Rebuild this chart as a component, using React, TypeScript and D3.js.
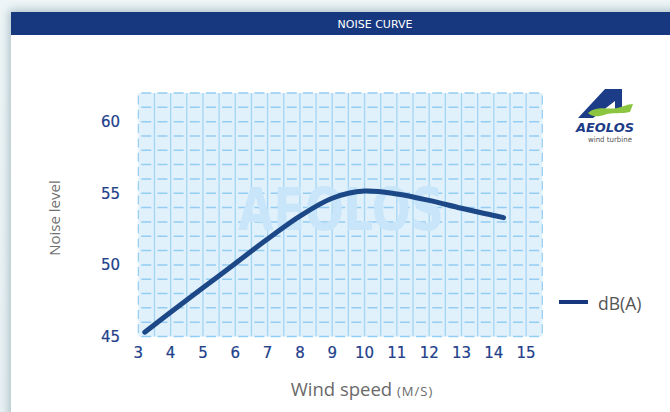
import * as d3 from 'd3';
import React from 'react';

// wind speed (m/s) vs noise level dB(A)
const windSpeed = [3.2, 4, 5, 6, 7, 8, 9, 10, 11, 12, 13, 14, 14.3];
const noiseLevel = [45.3, 46.7, 48.4, 50.1, 51.8, 53.4, 54.65, 55.15, 54.95, 54.5, 53.95, 53.45, 53.3];
const xTicks = [3, 4, 5, 6, 7, 8, 9, 10, 11, 12, 13, 14, 15];
const yTicks = [45, 50, 55, 60];
const seriesName = 'dB(A)';

const W = 670;
const H = 412;
const plot = { left: 138.3, right: 542.3, top: 93, bottom: 336.5 };

const navy = '#17387f';
const curveBlue = '#1d4887';
const tickBlue = '#22408a';

const App = () => {
    const x = d3.scaleLinear().domain([3, 15.5]).range([plot.left, plot.right]);
    const y = d3.scaleLinear().domain([45, 62]).range([plot.bottom, plot.top]);

    const pts: [number, number][] = windSpeed.map((w, i) => [w, noiseLevel[i]]);
    const line = d3.line<[number, number]>()
        .x(d => x(d[0]))
        .y(d => y(d[1]))
        .curve(d3.curveCatmullRom.alpha(0.5));

    const vLines = d3.range(3.5, 15.5, 0.5);
    const hLines = d3.range(45, 63, 1);

    const tickFont = { font: '15px "DejaVu Sans", sans-serif', stroke: tickBlue, strokeWidth: 0.2 };

    return (
        <div style={{ position: 'fixed', left: 0, top: 0 }}>
            <svg width={W} height={H} style={{ display: 'block' }}>
                <defs>
                    <filter id="shadow" x="-10%" y="-10%" width="120%" height="120%">
                        <feGaussianBlur stdDeviation="5" />
                    </filter>
                    <linearGradient id="pageBg" x1="0" y1="0" x2="0" y2="1">
                        <stop offset="0" stopColor="#eef5f7" />
                        <stop offset="1" stopColor="#e8f0f2" />
                    </linearGradient>
                </defs>

                {/* page + card */}
                <rect width={W} height={H} fill="url(#pageBg)" />
                <rect x={9} y={10} width={W} height={H} fill="#a9bfc6" filter="url(#shadow)" />
                <rect x={11} y={12} width={W} height={H} fill="#ffffff" />
                <rect x={11} y={12} width={W} height={23} fill={navy} />
                <text x={375} y={27.5} textAnchor="middle" fill="#ffffff"
                    style={{ font: '11px "DejaVu Sans", sans-serif' }}>NOISE CURVE</text>

                {/* plot background and grid */}
                <rect x={plot.left} y={plot.top} width={plot.right - plot.left} height={plot.bottom - plot.top} fill="#e0f1fc" />
                {vLines.map(v => (
                    <line key={'v' + v} x1={x(v)} x2={x(v)} y1={plot.top} y2={plot.bottom}
                        stroke="#a4d5f4" strokeWidth={1.3} />
                ))}
                {hLines.map(h => (
                    <line key={'h' + h} x1={plot.left} x2={plot.right} y1={y(h)} y2={y(h)}
                        stroke="#94cdf2" strokeWidth={1.5} strokeDasharray="10 6.16" strokeDashoffset={-3} />
                ))}
                {[3, 15.5].map(v => (
                    <line key={'e' + v} x1={x(v)} x2={x(v)} y1={plot.top} y2={plot.bottom}
                        stroke="#94cdf2" strokeWidth={1.2} strokeDasharray="9 5.3" strokeDashoffset={-2.5} />
                ))}

                {/* watermark */}
                <text x={341} y={230} textAnchor="middle" fill="#c9e5f9" textLength={206} lengthAdjust="spacingAndGlyphs"
                    style={{ font: 'bold 58px "DejaVu Sans", sans-serif' }}>AEOLOS</text>

                {/* curve */}
                <path d={line(pts) || ''} fill="none" stroke={curveBlue} strokeWidth={5} strokeLinecap="round" strokeLinejoin="round" />

                {/* y ticks */}
                {yTicks.map(t => (
                    <text key={'yt' + t} x={120} y={y(t)} dy="0.36em" textAnchor="end" fill={tickBlue}
                        style={tickFont}>{t}</text>
                ))}
                {/* x ticks */}
                {xTicks.map(t => (
                    <text key={'xt' + t} x={x(t)} y={353} dy="0.36em" textAnchor="middle" fill={tickBlue}
                        style={tickFont}>{t}</text>
                ))}

                {/* axis titles */}
                <text transform="translate(60,218) rotate(-90)" textAnchor="middle" fill="#707070"
                    style={{ font: '15px "Open Sans", sans-serif' }}>Noise level</text>
                <text x={362} y={396} textAnchor="middle" fill="#6a6a6a"
                    style={{ font: '18.5px "Open Sans", sans-serif' }}>
                    Wind speed <tspan style={{ fontSize: '13px', letterSpacing: '1px' }}>(M/S)</tspan>
                </text>

                {/* legend */}
                <line x1={559} x2={588} y1={302} y2={302} stroke={navy} strokeWidth={4} />
                <text x={598} y={304} dy="0.35em" fill="#555555"
                    style={{ font: '17.5px "Open Sans", sans-serif' }}>{seriesName}</text>

                {/* logo */}
                <g>
                    <path d="M605,89 L622,89 L622,110 L615,110 L615,101 L593,118 L578,118 Z" fill="#1c3c88" />
                    <path d="M588,113 C597,105 608,110 617,108 C623,107 627,104 633,104 L630,112 C622,114 612,112 604,115 C597,117 592,117 588,113 Z"
                        fill="#8cc640" />
                    <text x={605} y={132} textAnchor="middle" fill="#1c3c88" textLength={58} lengthAdjust="spacingAndGlyphs"
                        style={{ font: 'italic bold 13px "DejaVu Sans", sans-serif' }}>AEOLOS</text>
                    <text x={610} y={141.5} textAnchor="middle" fill="#555555" textLength={44} lengthAdjust="spacingAndGlyphs"
                        style={{ font: '7.5px "DejaVu Sans", sans-serif' }}>wind turbine</text>
                </g>
            </svg>
        </div>
    );
};

export default App;
